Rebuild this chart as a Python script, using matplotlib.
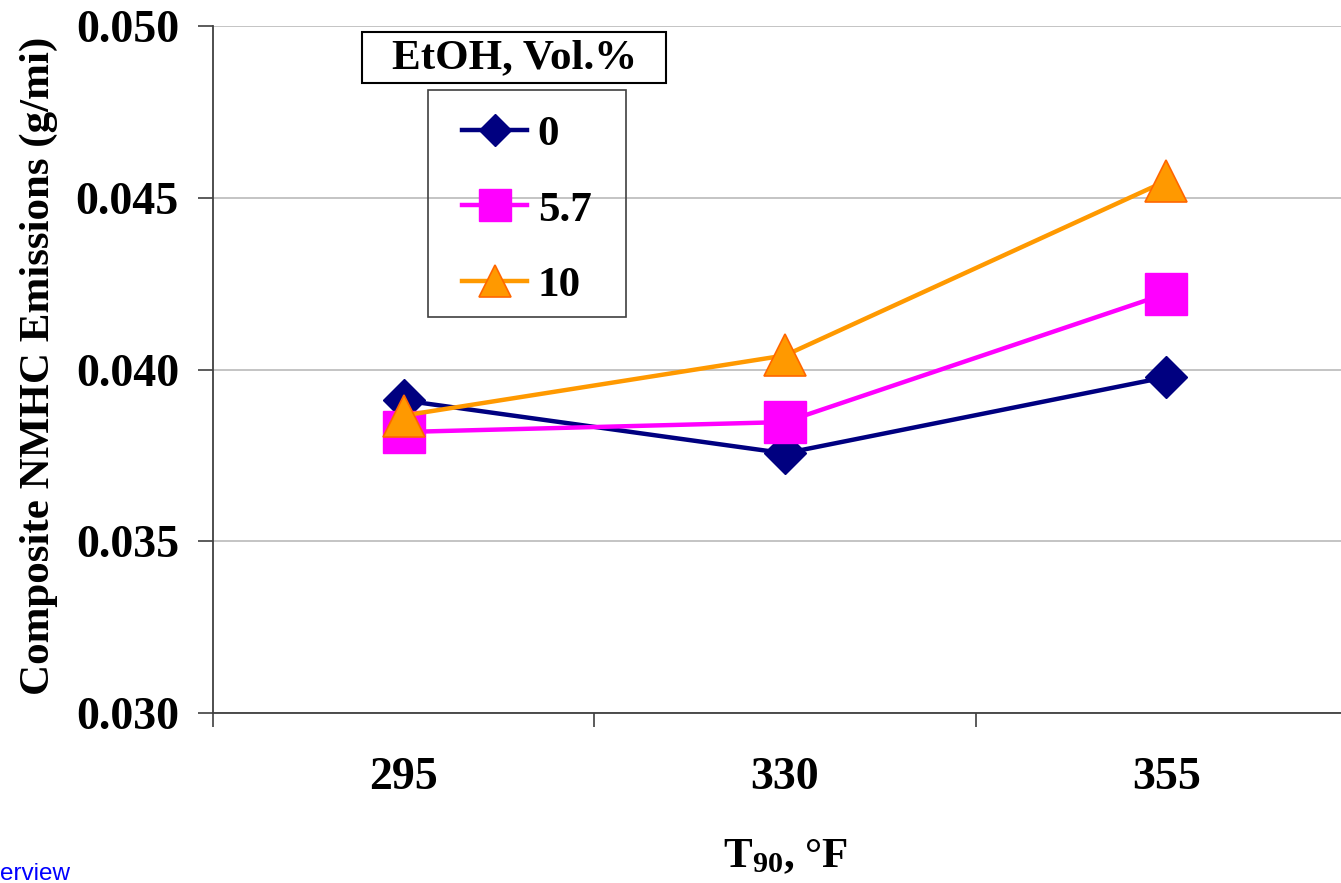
import matplotlib
matplotlib.use("Agg")
import matplotlib.pyplot as plt
from matplotlib.patches import Rectangle

# data
temps = ["295", "330", "355"]
etoh_0 = [0.03910, 0.03756, 0.03978]
etoh_57 = [0.03818, 0.03847, 0.04221]
etoh_10 = [0.03866, 0.04041, 0.04549]
series_labels = ["0", "5.7", "10"]
y_ticks = [0.030, 0.035, 0.040, 0.045, 0.050]

plt.rcParams['font.family'] = ['Liberation Serif', 'DejaVu Serif']
plt.rcParams['font.weight'] = 'bold'
plt.rcParams['mathtext.fontset'] = 'custom'
plt.rcParams['mathtext.rm'] = 'Liberation Serif:bold'
plt.rcParams['mathtext.bf'] = 'Liberation Serif:bold'
plt.rcParams['mathtext.default'] = 'bf'

W, H = 1341, 883
fig = plt.figure(figsize=(W / 100, H / 100), dpi=100)
ax = fig.add_axes([213 / W, (H - 713) / H, 1144 / W, 687 / H])

x = list(range(len(temps)))
l0, = ax.plot(x, etoh_0, color='#000080', lw=3.2, marker='D', ms=21,
              mfc='#000080', mec='#000080', mew=1, zorder=3)
l1, = ax.plot(x, etoh_57, color='#FF00FF', lw=3.2, marker='s', ms=30,
              mfc='#FF00FF', mec='#FF00FF', mew=1, zorder=3)
l2, = ax.plot(x, etoh_10, color='#FF9900', lw=3.2, marker='^', ms=30,
              mfc='#FF9900', mec='#FF6600', mew=1.2, zorder=3)

ax.set_xlim(-0.5, len(temps) - 0.5)
ax.set_ylim(0.030, 0.050)
ax.set_yticks(y_ticks)
ax.set_yticklabels([f"{v:.3f}" for v in y_ticks])
ax.yaxis.grid(True, color='#BFBFBF', lw=1.3)
ax.set_axisbelow(True)

# category labels on minor ticks, tick marks on category borders
ax.set_xticks([i - 0.5 for i in range(len(temps) + 1)])
ax.set_xticklabels([])
ax.set_xticks(x, minor=True)
ax.set_xticklabels(temps, minor=True)
ax.tick_params(axis='x', which='major', direction='out', length=10, width=1.2, color='#404040')
ax.tick_params(axis='x', which='minor', length=0, pad=32, labelsize=33)
ax.tick_params(axis='y', direction='out', length=10.5, width=1.2, color='#404040',
               pad=14, labelsize=33)

for s in ['top', 'right']:
    ax.spines[s].set_visible(False)
for s in ['left', 'bottom']:
    ax.spines[s].set_color('#404040')
    ax.spines[s].set_linewidth(1.3)

ax.set_ylabel("Composite NMHC Emissions (g/mi)", fontsize=31, fontweight='bold')
ax.yaxis.set_label_coords((58 - 213) / 1144, 0.505)
ax.set_xlabel("T$_{90}$, °F", fontsize=31, fontweight='bold')
ax.xaxis.set_label_coords(0.5, -(838 - 713) / 687)

# legend title box
fig.patches.append(Rectangle((362 / W, 1 - 83 / H), (666 - 362) / W, (83 - 32) / H,
                             transform=fig.transFigure, fill=False, ec='black', lw=1.5))
fig.text(515 / W, 1 - 58 / H, "EtOH, Vol.%", ha='center', va='center',
         fontsize=31, fontweight='bold')

# legend frame and entries
fig.patches.append(Rectangle((428 / W, 1 - 317 / H), (626 - 428) / W, (317 - 90) / H,
                             transform=fig.transFigure, fill=False, ec='#404040', lw=1.2))
leg = fig.legend([l0, l1, l2], series_labels, loc='center',
                 bbox_to_anchor=(527 / W, 1 - 210 / H), frameon=False,
                 prop={'family': 'Liberation Serif', 'weight': 'bold', 'size': 31},
                 handlelength=1.5, handletextpad=0.25, labelspacing=0.85,
                 markerscale=0.78, borderpad=0)

# cut-off link text at the bottom left
fig.text(0, 3 / H, "erview", ha='left', va='baseline', color='#0000FF',
         fontsize=17.5, family='Liberation Sans', fontweight='normal')

fig.savefig("out.png", dpi=100)
